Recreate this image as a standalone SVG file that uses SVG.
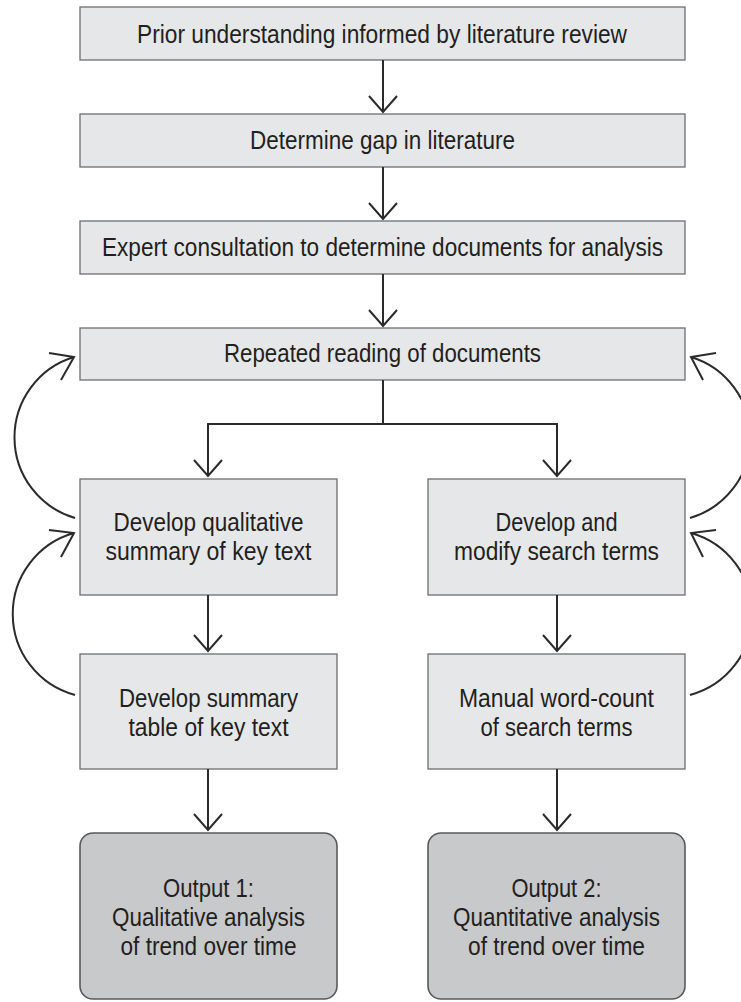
<svg xmlns="http://www.w3.org/2000/svg" width="741" height="1002" viewBox="0 0 741 1002">
<defs>
<style>
.box{fill:#e6e7e8;stroke:#6d6e70;stroke-width:1.3}
.out{fill:#c8c9cb;stroke:#58595b;stroke-width:1.6}
.t{font-family:"Liberation Sans",Arial,sans-serif;font-size:25px;fill:#231f20;text-anchor:middle}
.c{fill:none;stroke:#2b2b2b;stroke-width:2}
</style>
</defs>
<rect width="741" height="1002" fill="#ffffff"/>
<g id="n1"><rect class="box" x="80" y="7" width="605" height="53"/><text class="t" x="382" y="43" textLength="490" lengthAdjust="spacingAndGlyphs">Prior understanding informed by literature review</text></g>
<g id="n2"><rect class="box" x="80" y="114" width="605" height="53"/><text class="t" x="382.5" y="149" textLength="265" lengthAdjust="spacingAndGlyphs">Determine gap in literature</text></g>
<g id="n3"><rect class="box" x="80" y="221" width="605" height="53"/><text class="t" x="382.5" y="256" textLength="561" lengthAdjust="spacingAndGlyphs">Expert consultation to determine documents for analysis</text></g>
<g id="n4"><rect class="box" x="80" y="328" width="605" height="52"/><text class="t" x="382.5" y="362" textLength="317" lengthAdjust="spacingAndGlyphs">Repeated reading of documents</text></g>
<g id="n5"><rect class="box" x="80" y="479" width="257" height="116"/><text class="t" x="208.5" y="531" textLength="190" lengthAdjust="spacingAndGlyphs">Develop qualitative</text><text class="t" x="208.5" y="560" textLength="206" lengthAdjust="spacingAndGlyphs">summary of key text</text></g>
<g id="n6"><rect class="box" x="428" y="479" width="257" height="116"/><text class="t" x="556.5" y="531" textLength="122" lengthAdjust="spacingAndGlyphs">Develop and</text><text class="t" x="556.5" y="560" textLength="205" lengthAdjust="spacingAndGlyphs">modify search terms</text></g>
<g id="n7"><rect class="box" x="80" y="654" width="257" height="115"/><text class="t" x="208.5" y="707" textLength="179" lengthAdjust="spacingAndGlyphs">Develop summary</text><text class="t" x="208.5" y="736" textLength="160" lengthAdjust="spacingAndGlyphs">table of key text</text></g>
<g id="n8"><rect class="box" x="428" y="654" width="257" height="115"/><text class="t" x="556.5" y="707" textLength="195" lengthAdjust="spacingAndGlyphs">Manual word-count</text><text class="t" x="556.5" y="736" textLength="152" lengthAdjust="spacingAndGlyphs">of search terms</text></g>
<g id="n9"><rect class="out" x="80" y="833" width="257" height="166" rx="13" ry="13"/><text class="t" x="208.5" y="897" textLength="91" lengthAdjust="spacingAndGlyphs">Output 1:</text><text class="t" x="208.5" y="926" textLength="193" lengthAdjust="spacingAndGlyphs">Qualitative analysis</text><text class="t" x="208.5" y="955" textLength="176" lengthAdjust="spacingAndGlyphs">of trend over time</text></g>
<g id="n10"><rect class="out" x="428" y="833" width="257" height="166" rx="13" ry="13"/><text class="t" x="556.5" y="897" textLength="90" lengthAdjust="spacingAndGlyphs">Output 2:</text><text class="t" x="556.5" y="926" textLength="207" lengthAdjust="spacingAndGlyphs">Quantitative analysis</text><text class="t" x="556.5" y="955" textLength="177" lengthAdjust="spacingAndGlyphs">of trend over time</text></g>
<g id="connectors">
<path class="c" d="M383,60V112M369,96L383,112L397,96"/>
<path class="c" d="M383,167V219M369,203L383,219L397,203"/>
<path class="c" d="M383,274V326M369,310L383,326L397,310"/>
<path class="c" d="M383,380V424M208,476V424H557V476M194,460L208,476L222,460M543,460L557,476L571,460"/>
<path class="c" d="M208,595V651M194,635L208,651L222,635"/>
<path class="c" d="M557,595V651M543,635L557,651L571,635"/>
<path class="c" d="M208,769V830M194,814L208,830L222,814"/>
<path class="c" d="M557,769V830M543,814L557,830L571,814"/>
<path class="c" d="M75,518A84,84 0 0 1 74,357M49,353L74,357L61,380"/>
<path class="c" d="M75,695A84,84 0 0 1 74,533M49,530L74,533L61,557"/>
<path class="c" d="M690,518A84,84 0 0 0 691,357M716,353L691,357L703,380"/>
<path class="c" d="M690,695A84,84 0 0 0 691,533M716,530L691,533L703,557"/>
</g>
</svg>
